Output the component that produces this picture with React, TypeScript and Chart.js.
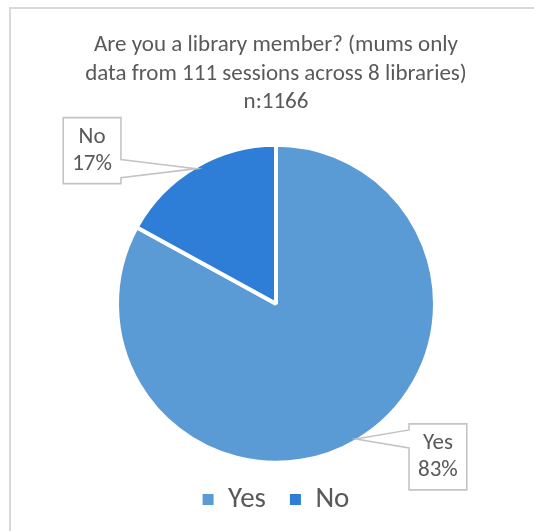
import React, { useEffect, useRef } from "react";
import { Chart, registerables } from "chart.js";

Chart.register(...registerables);

const categories = ["Yes", "No"];
const shares = [83, 17];
const sliceColors = ["#5B9BD5", "#2E7DD6"];
const titleLines = [
  "Are you a library member? (mums only",
  "data from 111 sessions across 8 libraries)",
  "n:1166",
];

const FONT = "Carlito, Calibri, Lato, 'Open Sans', sans-serif";
const TEXT = "#595959";

const calloutPlugin = {
  id: "callouts",
  afterDatasetsDraw(chart: any, _args: any, opts: any) {
    const ctx = chart.ctx as CanvasRenderingContext2D;
    const meta = chart.getDatasetMeta(0);
    const data = chart.data.datasets[0].data as number[];
    const total = data.reduce((a, b) => a + b, 0);
    ctx.save();
    ctx.font = `${opts.fontSize}px ${FONT}`;
    meta.data.forEach((arc: any, i: number) => {
      const { x, y, startAngle, endAngle, outerRadius } = arc.getProps(
        ["x", "y", "startAngle", "endAngle", "outerRadius"],
        true
      );
      const mid = (startAngle + endAngle) / 2;
      const r = outerRadius - opts.inset;
      const tx = x + Math.cos(mid) * r;
      const ty = y + Math.sin(mid) * r;
      const off = opts.offsets[i];
      const lines = [String(chart.data.labels[i]), Math.round((data[i] / total) * 100) + "%"];
      const tw = Math.max(...lines.map((l) => ctx.measureText(l).width));
      const w = tw + 2 * opts.padX;
      const h = lines.length * opts.lineHeight + 2 * opts.padY;
      const cx = tx + off[0];
      const cy = ty + off[1];
      const L = cx - w / 2, R = cx + w / 2, T = cy - h / 2, B = cy + h / 2;
      const wg = opts.wedge;
      const bc = Math.min(Math.max(ty, T + wg + 2), B - wg - 2);
      ctx.beginPath();
      ctx.moveTo(L, T);
      ctx.lineTo(R, T);
      if (tx > R) {
        ctx.lineTo(R, bc - wg);
        ctx.lineTo(tx, ty);
        ctx.lineTo(R, bc + wg);
      }
      ctx.lineTo(R, B);
      ctx.lineTo(L, B);
      if (tx < L) {
        ctx.lineTo(L, bc + wg);
        ctx.lineTo(tx, ty);
        ctx.lineTo(L, bc - wg);
      }
      ctx.closePath();
      ctx.fillStyle = "#ffffff";
      ctx.fill();
      ctx.strokeStyle = "#c4c4c4";
      ctx.lineWidth = 1.6;
      ctx.stroke();
      ctx.fillStyle = TEXT;
      ctx.textAlign = "center";
      ctx.textBaseline = "middle";
      lines.forEach((l, k) => {
        ctx.fillText(l, cx, T + opts.padY + opts.lineHeight * (k + 0.5));
      });
    });
    ctx.restore();
  },
};

export default function App() {
  const ref = useRef<HTMLCanvasElement | null>(null);

  useEffect(() => {
    if (!ref.current) return;
    const baseGen = (Chart as any).overrides.doughnut.plugins.legend.labels.generateLabels;
    const chart = new Chart(ref.current, {
      type: "pie",
      data: {
        labels: categories,
        datasets: [
          {
            data: shares,
            backgroundColor: sliceColors,
            borderColor: "#ffffff",
            borderWidth: 4,
          },
        ],
      },
      plugins: [calloutPlugin as any],
      options: {
        responsive: false,
        animation: false,
        radius: 159,
        layout: { padding: { left: 7, right: 0, top: 0, bottom: 7 } },
        plugins: {
          tooltip: { enabled: false },
          title: {
            display: true,
            text: titleLines,
            color: TEXT,
            font: { family: FONT, size: 23, weight: "normal", lineHeight: 1.24 },
            padding: { top: 22, bottom: 30 },
          },
          legend: {
            position: "bottom",
            labels: {
              color: TEXT,
              font: { family: FONT, size: 29 },
              boxWidth: 11,
              boxHeight: 11,
              padding: 24,
              generateLabels: (c: any) =>
                baseGen(c).map((l: any) => ({ ...l, lineWidth: 0, strokeStyle: "transparent" })),
            },
          },
          callouts: {
            fontSize: 23,
            lineHeight: 27,
            padX: 9,
            padY: 6,
            inset: 2,
            wedge: 9,
            offsets: [
              [82, 18],
              [-104, -18],
            ],
          },
        } as any,
      },
    });
    return () => chart.destroy();
  }, []);

  return (
    <div
      style={{
        position: "absolute",
        left: 9,
        top: 7,
        width: 525,
        height: 524,
        boxSizing: "border-box",
        borderTop: "2px solid #d9d9d9",
        borderLeft: "2px solid #d9d9d9",
        overflow: "hidden",
        background: "#ffffff",
      }}
    >
      <canvas ref={ref} width={523} height={522} style={{ display: "block" }} />
    </div>
  );
}
